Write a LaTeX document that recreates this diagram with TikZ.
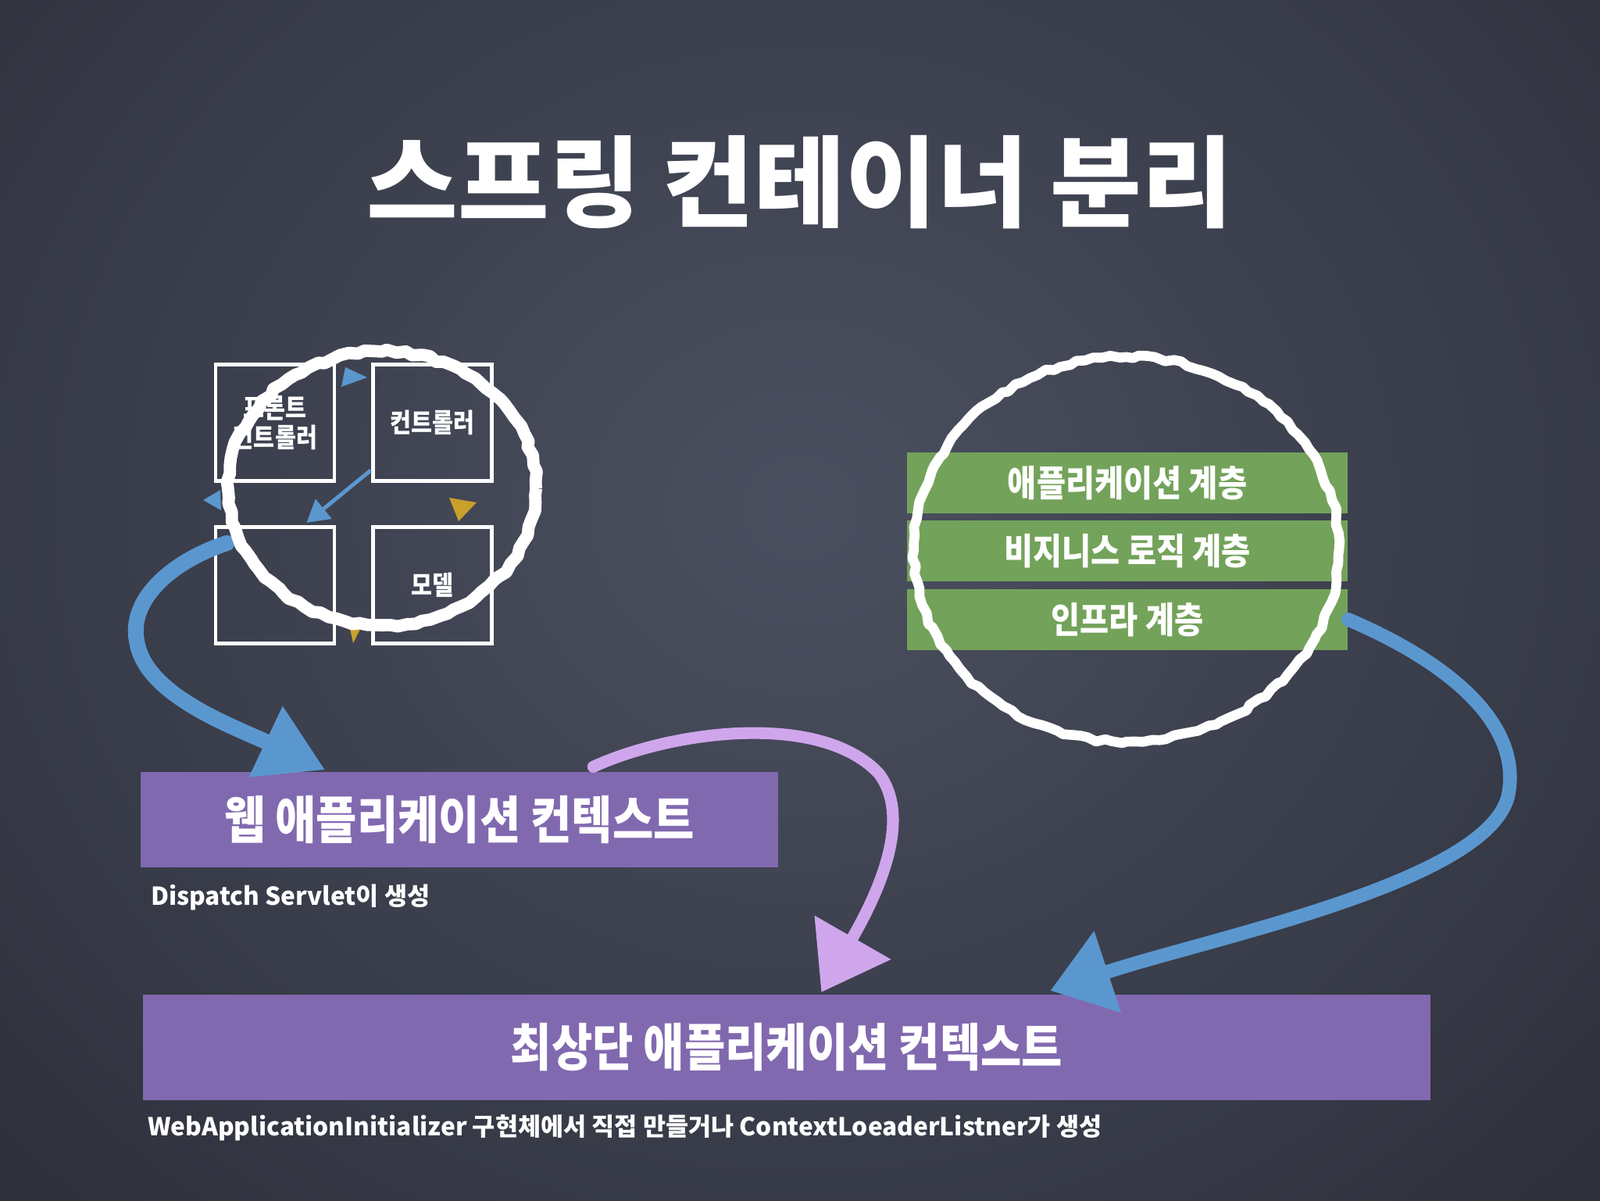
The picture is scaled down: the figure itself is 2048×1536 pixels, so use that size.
\documentclass[tikz,border=0pt]{standalone}
\usepackage{fontspec}
\setmainfont{Noto Sans CJK KR}
\newfontfamily\narrowfont[FakeStretch=0.87]{Noto Sans CJK KR}
\usetikzlibrary{arrows.meta,calc,positioning,decorations.pathmorphing}
\definecolor{boardlight}{HTML}{4B5060}
\definecolor{boarddark}{HTML}{2C2E39}
\definecolor{layergreen}{HTML}{73A25A}
\definecolor{ctxpurple}{HTML}{8169B0}
\definecolor{chalkblue}{HTML}{5B97CF}
\definecolor{chalklilac}{HTML}{CFA6EC}
\definecolor{chalkyellow}{HTML}{C9A02A}
\tikzset{
    mvc-box/.style = {draw=white, line width=1.4pt, minimum width=15.2mm, minimum height=14.9mm, inner sep=0pt, text=white, align=center, font=\narrowfont\bfseries\fontsize{9.6}{11}\selectfont},
    layer-bar/.style = {fill=layergreen, minimum width=56.4mm, minimum height=7.8mm, inner sep=0pt, text=white, font=\narrowfont\bfseries\fontsize{13.2}{15}\selectfont},
    context-bar/.style = {fill=ctxpurple, inner sep=0pt, text=white, font=\narrowfont\bfseries\fontsize{18.6}{21}\selectfont},
    note/.style = {text=white, inner sep=0pt, font=\bfseries\fontsize{9}{11}\selectfont},
    chalk-ring/.style = {draw=white, line join=round, decorate, decoration={random steps, segment length=3pt, amplitude=0.7pt}},
    chalk-arrow/.style = {line cap=round, line join=round},
}
\begin{document}
\begin{tikzpicture}[x=0.1mm, y=-0.1mm]
\begin{scope}
  \clip (0,0) rectangle (2048,1536);
  \shade[inner color=boardlight, outer color=boarddark] (-500,-700) rectangle (2548,2000);
\end{scope}
\useasboundingbox (0,0) rectangle (2048,1536);

\node[text=white, font=\bfseries\fontsize{36.1}{40}\selectfont] (title) at (1024,233) {스프링 컨테이너 분리};

% MVC
\node[mvc-box] (front) at (352,541) {프론트\\컨트롤러};
\node[mvc-box, right=4.5mm of front] (ctrl) {컨트롤러};
\node[mvc-box, below=5.4mm of front] (view) {};
\node[mvc-box, below=5.4mm of ctrl] (model) {모델};

% layers
\node[layer-bar] (applayer) at (1443,618) {애플리케이션 계층};
\node[layer-bar, below=0.8mm of applayer] (bizlayer) {비지니스 로직 계층};
\node[layer-bar, below=0.8mm of bizlayer] (infralayer) {인프라 계층};

% contexts
\node[context-bar, minimum width=81.6mm, minimum height=12.2mm] (webctx) at (588,1049) {웹 애플리케이션 컨텍스트};
\node[note, anchor=west] (webnote) at ($(webctx.south west)+(13,38)$) {Dispatch Servlet이 생성};
\node[context-bar, minimum width=164.8mm, minimum height=13.5mm] (rootctx) at (1007,1340) {최상단 애플리케이션 컨텍스트};
\node[note, anchor=west] (rootnote) at ($(rootctx.south west)+(6,35)$) {WebApplicationInitializer 구현체에서 직접 만들거나 ContextLoeaderListner가 생성};

% small tips round the MVC ring
\fill[chalkblue] (442,470) -- (437,495) -- (470,483) -- cycle;
\draw[chalkblue, line width=1.4pt, -{Triangle[length=8pt,width=9pt]}] ($(ctrl.south west)+(-1,-16)$) -- ($(view.north east)+(-38,-3)$);
\fill[chalkblue] (260,640) -- (282,627) -- (283,653) -- cycle;
\fill[chalkyellow] (575,637) -- (610,643) -- (587,667) -- cycle;
\fill[chalkyellow] (447,800) -- (465,797) -- (452,823) -- cycle;

% big chalk arrows
\draw[chalk-arrow, chalkblue, line width=5.7pt, -{Triangle[length=24pt,width=27pt]}] ($(view.north west)+(17,23)$) .. controls (215,720) and (165,770) .. (175,820) .. controls (185,890) and (300,930) .. ($(webctx.north west)+(237,-2)$);
\draw[chalk-arrow, chalklilac, line width=4.3pt, -{Triangle[length=23pt,width=31pt]}] ($(webctx.north west)+(580,-6)$) .. controls (860,935) and (1050,910) .. (1125,990) .. controls (1170,1050) and (1120,1150) .. ($(rootctx.north west)+(869,-2)$);
\draw[chalk-arrow, chalkblue, line width=5pt, -{Triangle[length=22pt,width=30pt]}] (infralayer.east) .. controls (1860,850) and (1950,930) .. (1930,1020) .. controls (1900,1130) and (1550,1200) .. ($(rootctx.north west)+(1162,-4)$);

% rings
\draw[chalk-ring, line width=4.5pt] (489,625) ellipse [x radius=19.7mm, y radius=17.5mm];
\draw[chalk-ring, line width=3.6pt] (1442,703) ellipse [x radius=27.2mm, y radius=24.6mm];
\end{tikzpicture}
\end{document}
